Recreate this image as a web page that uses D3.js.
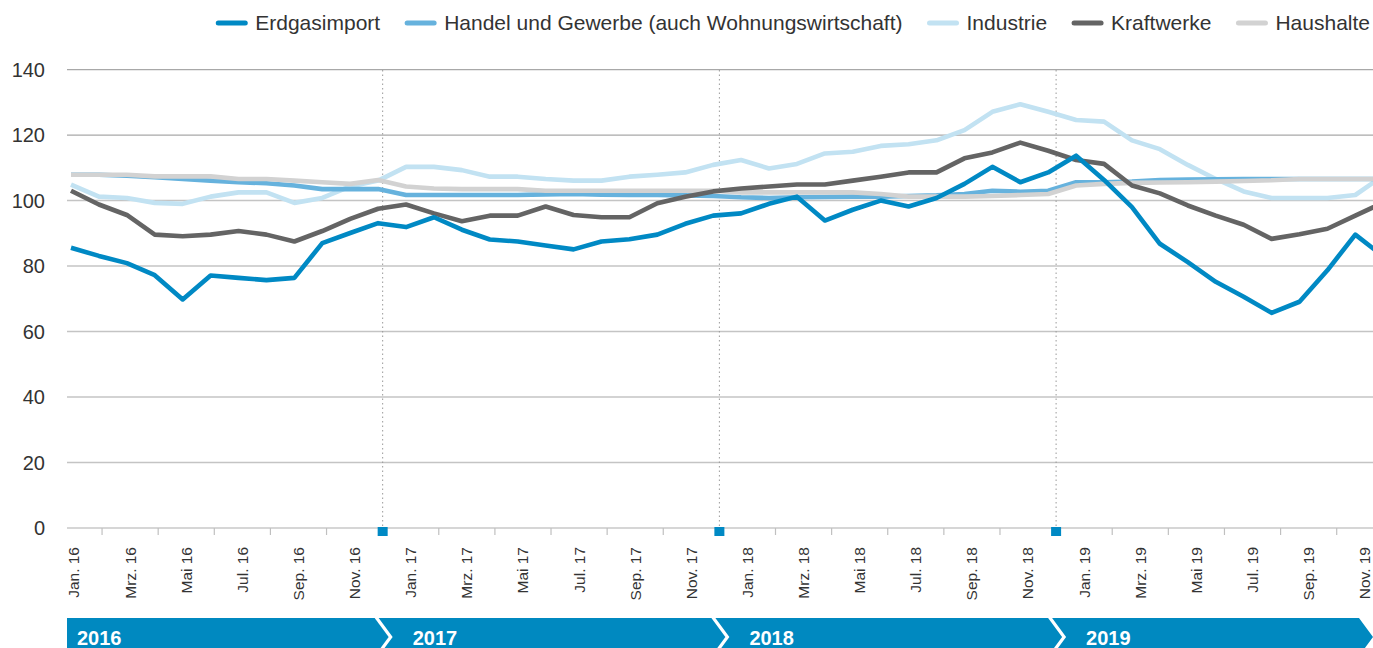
<!DOCTYPE html>
<html>
<head>
<meta charset="utf-8">
<script src="https://cdn.jsdelivr.net/npm/d3@7"></script>
<style>
  body { margin: 0; background: #fff; }
  svg { display: block; font-family: "Liberation Sans", Arial, sans-serif; }
</style>
</head>
<body>
<div id="wrapper"></div>
<script>
// month labels (Jan 2016 .. Dez 2019)
const monthNames = ["Jan.", "Feb.", "Mrz.", "Apr.", "Mai", "Jun.", "Jul.", "Aug.", "Sep.", "Okt.", "Nov.", "Dez."];
const years = ["16", "17", "18", "19"];
const months = years.flatMap(y => monthNames.map(m => m + " " + y));
const yearLabels = ["2016", "2017", "2018", "2019"];
const yTicks = [0, 20, 40, 60, 80, 100, 120, 140];

const erdgasimport = [85.6, 83.1, 80.9, 77.2, 69.8, 77.1, 76.4, 75.7, 76.4, 87.0, 90.1, 93.1,
    91.9, 94.9, 91.1, 88.1, 87.5, 86.3, 85.1, 87.5, 88.2, 89.6, 92.9, 95.4,
    96.1, 99.0, 101.2, 93.9, 97.2, 100.0, 98.2, 100.8, 105.1, 110.3, 105.6, 108.6,
    113.7, 106.3, 98.0, 86.8, 81.2, 75.2, 70.6, 65.7, 69.1, 78.7, 89.6, 83.0];
const handel = [107.9, 107.9, 107.6, 107.1, 106.6, 106.1, 105.6, 105.3, 104.6, 103.5, 103.5, 103.5,
    101.7, 101.7, 101.7, 101.7, 101.7, 101.9, 102.0, 101.8, 101.7, 101.7, 101.6, 101.4,
    101.0, 100.8, 101.0, 101.1, 101.2, 101.2, 101.4, 101.6, 102.0, 103.0, 102.7, 103.0,
    105.6, 105.6, 105.8, 106.3, 106.4, 106.5, 106.6, 106.6, 106.6, 106.6, 106.6, 106.6];
const industrie = [104.9, 101.2, 100.8, 99.3, 99.0, 101.2, 102.5, 102.5, 99.3, 100.8, 104.3, 106.1,
    110.3, 110.3, 109.3, 107.3, 107.3, 106.6, 106.1, 106.1, 107.3, 107.9, 108.6, 110.9,
    112.4, 109.8, 111.2, 114.4, 114.9, 116.7, 117.2, 118.4, 121.5, 127.1, 129.4, 127.1,
    124.6, 124.1, 118.4, 115.7, 110.9, 106.6, 102.8, 100.8, 100.8, 100.8, 101.7, 107.6];
const kraftwerke = [103.0, 98.8, 95.6, 89.6, 89.1, 89.6, 90.7, 89.6, 87.5, 90.7, 94.4, 97.5,
    98.8, 96.1, 93.7, 95.4, 95.4, 98.2, 95.6, 94.9, 94.9, 99.2, 101.2, 102.8,
    103.7, 104.3, 104.9, 104.9, 106.1, 107.3, 108.6, 108.6, 112.9, 114.7, 117.7, 115.2,
    112.4, 111.2, 104.6, 102.2, 98.5, 95.4, 92.6, 88.3, 89.7, 91.4, 95.4, 99.4];
const haushalte = [107.9, 107.9, 107.9, 107.4, 107.4, 107.4, 106.6, 106.6, 106.1, 105.6, 105.1, 106.3,
    104.3, 103.7, 103.5, 103.5, 103.5, 103.0, 103.0, 103.0, 103.0, 103.0, 103.0, 103.0,
    102.5, 102.5, 102.5, 102.5, 102.5, 102.0, 101.2, 101.2, 101.2, 101.4, 101.7, 102.0,
    104.6, 105.1, 105.4, 105.5, 105.6, 105.8, 106.0, 106.2, 106.6, 106.6, 106.6, 106.6];

// legend order; drawing order below
const series = [
    {name: "Erdgasimport", values: erdgasimport, color: "#0089c4"},
    {name: "Handel und Gewerbe (auch Wohnungswirtschaft)", values: handel, color: "#66b2dd"},
    {name: "Industrie", values: industrie, color: "#c2e2f2"},
    {name: "Kraftwerke", values: kraftwerke, color: "#646464"},
    {name: "Haushalte", values: haushalte, color: "#d2d2d2"}
];
const drawOrder = ["Industrie", "Handel und Gewerbe (auch Wohnungswirtschaft)", "Haushalte", "Kraftwerke", "Erdgasimport"];

const dim = {width: 1373, height: 648, left: 67, right: 1373, top: 70, bottom: 528};

const svg = d3.select("#wrapper").append("svg")
    .attr("width", dim.width)
    .attr("height", dim.height);

const yScale = d3.scaleLinear().domain([0, 140]).range([dim.bottom, 69.6]);
// the lines and the category axis sit on slightly different grids in the original
const xLine = d3.scalePoint().domain(months).range([71, 71 + 47 * 27.92]);
const xAxis = d3.scalePoint().domain(months).range([74, 74 + 47 * 28.06]);

// gridlines
svg.append("g").selectAll("line")
    .data(yTicks.filter(d => d > 0))
    .join("line")
    .attr("x1", dim.left).attr("x2", dim.right)
    .attr("y1", d => yScale(d)).attr("y2", d => yScale(d))
    .attr("stroke", d => d >= 120 ? "#a8a8a8" : "#c4c4c4")
    .attr("stroke-width", 1.4);

// y labels
svg.append("g").selectAll("text")
    .data(yTicks)
    .join("text")
    .attr("x", 45)
    .attr("y", d => yScale(d))
    .attr("dy", "0.35em")
    .attr("text-anchor", "end")
    .attr("font-size", 20)
    .attr("fill", "#333")
    .text(d => d);

// year separators (December positions)
const decIdx = [11, 23, 35];
svg.append("g").selectAll("line")
    .data(decIdx)
    .join("line")
    .attr("x1", d => xAxis(months[d])).attr("x2", d => xAxis(months[d]))
    .attr("y1", dim.top).attr("y2", dim.bottom)
    .attr("stroke", "#9a9a9a")
    .attr("stroke-width", 1)
    .attr("stroke-dasharray", "1.5,3");

// baseline + ticks
svg.append("line")
    .attr("x1", dim.left).attr("x2", dim.right)
    .attr("y1", dim.bottom).attr("y2", dim.bottom)
    .attr("stroke", "#c8c8c8").attr("stroke-width", 1.5);
svg.append("g").selectAll("line")
    .data(months.filter((m, i) => i % 2 === 1))
    .join("line")
    .attr("x1", d => xAxis(d)).attr("x2", d => xAxis(d))
    .attr("y1", dim.bottom).attr("y2", dim.bottom + 7)
    .attr("stroke", "#c0c0c0").attr("stroke-width", 1.2);
svg.append("g").selectAll("rect")
    .data(decIdx)
    .join("rect")
    .attr("x", d => xAxis(months[d]) - 5)
    .attr("y", dim.bottom - 1)
    .attr("width", 10).attr("height", 9)
    .attr("fill", "#0089c4");

// month labels
svg.append("g").selectAll("text")
    .data(months.filter((m, i) => i % 2 === 0))
    .join("text")
    .attr("transform", d => `translate(${xAxis(d)},547) rotate(-90)`)
    .attr("dy", "0.35em")
    .attr("text-anchor", "end")
    .attr("font-size", 15.5)
    .attr("fill", "#333")
    .text(d => d);

// lines
const line = d3.line()
    .x((d, i) => xLine(months[i]))
    .y(d => yScale(d));

svg.append("g").selectAll("path")
    .data(drawOrder.map(n => series.find(s => s.name === n)))
    .join("path")
    .attr("d", d => line(d.values))
    .attr("fill", "none")
    .attr("stroke", d => d.color)
    .attr("stroke-width", 4.6)
    .attr("stroke-linejoin", "round");

// year band with chevrons
const bandTop = 618, bandH = 38, mid = bandTop + bandH / 2;
const bounds = [dim.left].concat(decIdx.map(i => xAxis(months[i])), [dim.right - 6]);
const band = svg.append("g");
yearLabels.forEach((yr, i) => {
    const x0 = bounds[i], x1 = bounds[i + 1];
    const pts = [];
    if (i === 0) {
        pts.push([x0, bandTop], [x1 - 8, bandTop], [x1 + 6, mid], [x1 - 8, bandTop + bandH], [x0, bandTop + bandH]);
    } else {
        pts.push([x0 - 4, bandTop], [x1 - 8, bandTop], [x1 + 6, mid], [x1 - 8, bandTop + bandH], [x0 - 4, bandTop + bandH], [x0 + 10, mid]);
    }
    band.append("polygon")
        .attr("points", pts.map(p => p.join(",")).join(" "))
        .attr("fill", "#0089c0");
    band.append("text")
        .attr("x", i === 0 ? x0 + 10 : x0 + 30)
        .attr("y", 645)
        .attr("font-size", 20)
        .attr("font-weight", "bold")
        .attr("fill", "#fff")
        .text(yr);
});

// legend, right aligned
const legend = svg.append("g");
let lx = 1370;
series.slice().reverse().forEach(s => {
    const t = legend.append("text")
        .attr("y", 23)
        .attr("dy", "0.35em")
        .attr("font-size", 21)
        .attr("fill", "#333")
        .text(s.name);
    const w = t.node().getComputedTextLength();
    t.attr("x", lx - w);
    legend.append("line")
        .attr("x1", lx - w - 37).attr("x2", lx - w - 10)
        .attr("y1", 23).attr("y2", 23)
        .attr("stroke", s.color)
        .attr("stroke-width", 5)
        .attr("stroke-linecap", "round");
    lx = lx - w - 37 - 27;
});
</script>
</body>
</html>
